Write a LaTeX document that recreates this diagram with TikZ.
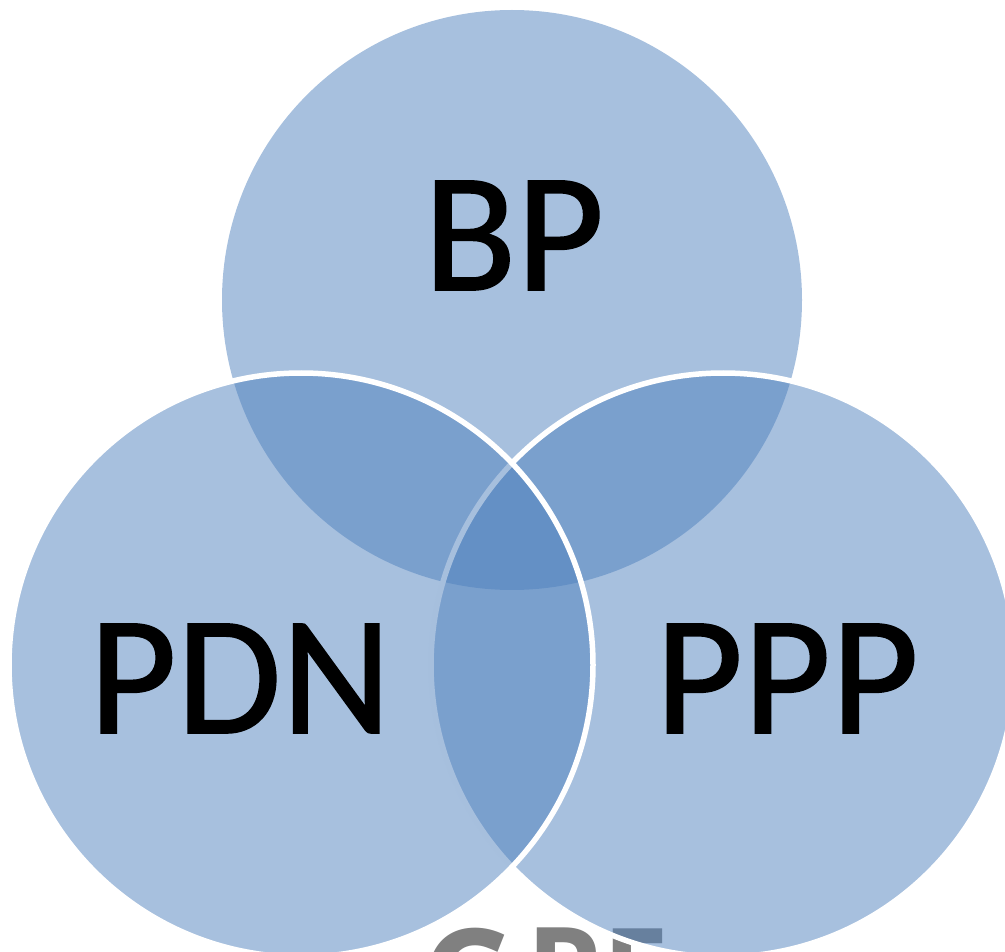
\documentclass[tikz,border=0pt]{standalone}
\usepackage{fontspec}
\setmainfont{Carlito}
\newfontfamily\labelfont[FakeBold=1]{Carlito}
\newfontfamily\logofont[BoldFont=*]{Open Sans Bold}
\definecolor{officeblue}{HTML}{4F81BD}
\definecolor{logogray}{HTML}{808080}
\tikzset{
  venn/.style={circle,inner sep=0pt,outer sep=0pt,minimum size=580pt,fill=officeblue,fill opacity=.5},
  vennline/.style={venn,minimum size=584pt,draw=white,draw opacity=1,line width=5.5pt},
  vennlabel/.style={anchor=base,inner sep=0pt,text=black,font=\labelfont\fontsize{170}{170}\selectfont},
  logotext/.style={anchor=base west,inner sep=0pt,text=logogray,font=\logofont\fontsize{120}{120}\selectfont}
}
\begin{document}
\begin{tikzpicture}[x=1pt,y=-1pt]
\useasboundingbox (0,0) rectangle (1005,952);
\clip (0,0) rectangle (1005,952);
\node[logotext,font=\logofont\fontsize{140}{140}\selectfont] (logoC) at (420,1029) {C};
\node[logotext] (logoP) at (526,1013) {P};
\node[logotext] (logoE) at (602,1014) {E};
\node[venn] (bp) at (512,300) {};
\node[vennline] (ppp) at (723,665) {};
\node[vennline] (pdn) at (301,665) {};
\node[vennlabel] (bpl) at (514,290) {BP};
\node[vennlabel] (pdnl) at (240,733) {PDN};
\node[vennlabel] (pppl) at (787,733) {PPP};
\end{tikzpicture}
\end{document}
